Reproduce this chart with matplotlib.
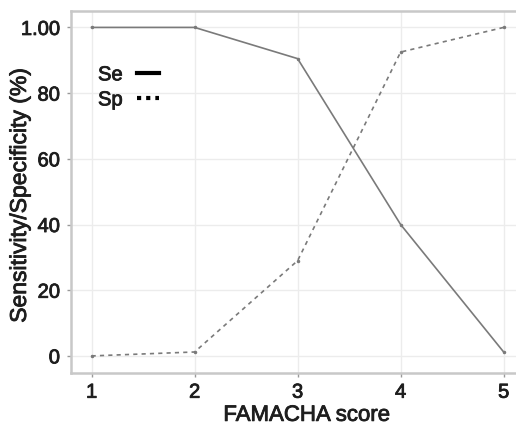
import matplotlib
matplotlib.use('Agg')
import matplotlib.pyplot as plt
import matplotlib.patheffects as pe
from matplotlib.lines import Line2D

plt.rcParams['font.family'] = ['Liberation Sans', 'DejaVu Sans']

score = [1, 2, 3, 4, 5]
se = [100, 100, 90.5, 40, 1.2]
sp = [0, 1.2, 29, 92.5, 100]
yticks = [0, 20, 40, 60, 80, 100]

txt_col = '#1e1e1e'
thick = [pe.withStroke(linewidth=0.6, foreground=txt_col)]

fig = plt.figure(figsize=(5.16, 4.25), dpi=100)
ax = fig.add_axes([71/516, 52/425, 445/516, 362/425])

ax.plot(score, se, color='#7a7a7a', lw=1.2, ls='-', marker='o', ms=1.5)
ax.plot(score, sp, color='#7a7a7a', lw=1.2, ls=(0, (2.5, 2.5)), marker='o', ms=1.5)

ax.set_xlim(0.8, 5.12)
ax.set_ylim(-5.2, 105)
ax.set_xticks(score)
ax.set_yticks(yticks)
ax.set_yticklabels(['0', '20', '40', '60', '80', '1.00'])
ax.grid(True, color='#ececec', lw=1)
ax.set_axisbelow(True)

for s in ['left', 'bottom', 'top']:
    ax.spines[s].set_color('#c8c8c8')
    ax.spines[s].set_linewidth(1.8)
ax.spines['right'].set_visible(False)
ax.tick_params(colors='#999999', length=3, width=1, labelsize=14.5, pad=5)
ax.tick_params(axis='x', pad=4)
for lab in ax.get_xticklabels() + ax.get_yticklabels():
    lab.set_color(txt_col)
    lab.set_path_effects(thick)

ax.set_xlabel('FAMACHA score', fontsize=16, color=txt_col, path_effects=thick)
ax.set_ylabel('Sensitivity/Specificity (%)', fontsize=16.5, color=txt_col,
              path_effects=thick)
ax.xaxis.set_label_coords(0.53, -0.088)
ax.yaxis.set_label_coords(-0.09, 0.49)

handles = [Line2D([], [], color='black', lw=3, ls='-'),
           Line2D([], [], color='black', lw=3, ls=(0, (1, 1.2)))]
leg = ax.legend(handles, ['Se', 'Sp'], loc='upper left', bbox_to_anchor=(0.02, 0.9),
                frameon=False, markerfirst=False, handlelength=1.1,
                handletextpad=0.7, fontsize=14.5, labelspacing=0.3)
for t in leg.get_texts():
    t.set_color(txt_col)
    t.set_path_effects(thick)

fig.savefig('out.png', dpi=100)
